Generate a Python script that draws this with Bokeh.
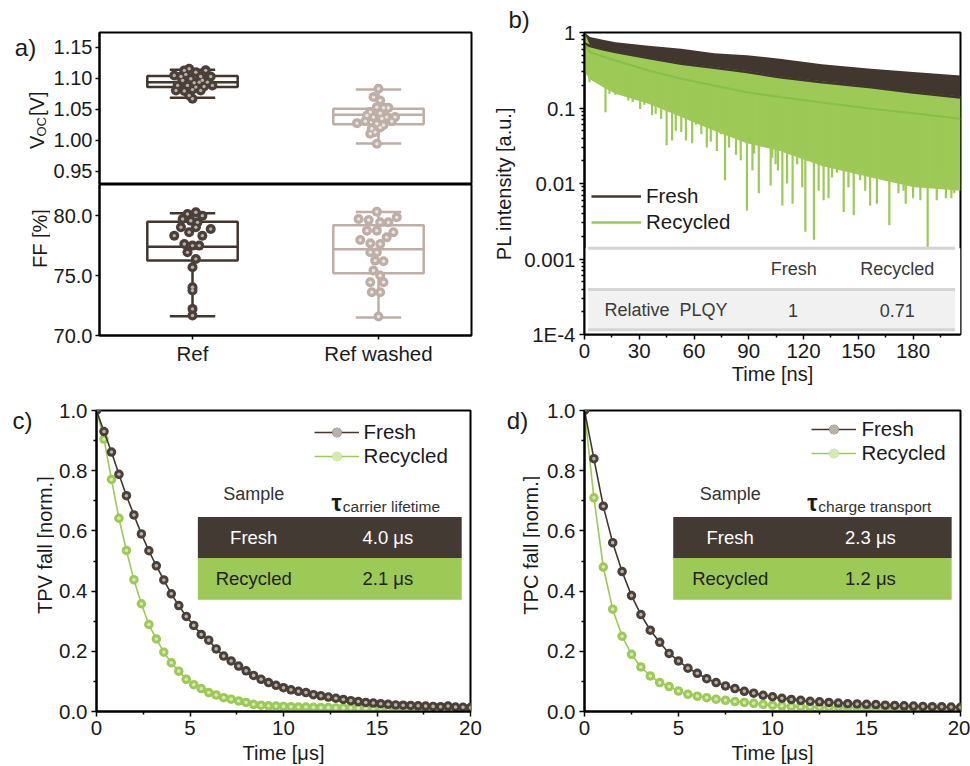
import numpy as np
from bokeh.plotting import figure
from bokeh.layouts import column, row
from bokeh.models import (FixedTicker, Legend, LegendItem, Range1d, Title,
                          NumeralTickFormatter, CustomJSTickFormatter)
from bokeh.embed import file_html
from bokeh.resources import INLINE
from bokeh.core.properties import value

FONT = "Liberation Sans"
DARK = "#41372f"
DARK_PT = "#4a4039"
DARK_HI = "#b9b0a8"
TAUPE = "#bdafa7"
TAUPE_HI = "#ebe5e0"
GREEN = "#9dc956"
GREEN_HI = "#d6eab4"
GREEN_FIT = "#86c046"
TABLE_DARK = "#433a33"
TXT = "#1a1a1a"
TICK_FS = "20.5px"
LABEL_FS = "20px"

# ---------------- a) box plots ----------------
groups = ["Ref", "Ref washed"]
group_pos = [1, 2]
voc_whisker_lo = [1.069, 0.995]
voc_q1 = [1.086, 1.026]
voc_median = [1.094, 1.0415]
voc_q3 = [1.104, 1.051]
voc_whisker_hi = [1.114, 1.082]
ff_whisker_lo = [71.6, 71.5]
ff_q1 = [76.25, 75.2]
ff_median = [77.4, 77.2]
ff_q3 = [79.5, 79.2]
ff_whisker_hi = [80.2, 80.3]

voc_ref = [1.1048, 1.1129, 1.1156, 1.110, 1.113, 1.103, 1.103, 1.0968, 1.0995, 1.094,
           1.094, 1.0887, 1.0887, 1.086, 1.087, 1.0887, 1.0806, 1.0796, 1.082, 1.0806,
           1.0726, 1.0672, 1.103, 1.093, 1.097, 1.1065]
voc_ref_jitter = [-0.098, -0.044, -0.018, 0.018, 0.071, 0.098, 0.044, -0.053, -0.009, 0.036,
                  0.08, -0.08, -0.027, 0.018, 0.062, 0.107, -0.089, -0.044, 0.0, 0.044,
                  -0.018, 0.0, -0.062, 0.009, 0.053, -0.036]
voc_washed = [1.0833, 1.0699, 1.0645, 1.0537, 1.0527, 1.0527, 1.0457, 1.044, 1.0376, 1.0376,
              1.0376, 1.0279, 1.031, 1.0269, 1.025, 1.031, 1.0188, 1.021, 1.0108, 1.0135,
              0.9946, 1.0403, 1.0355]
voc_washed_jitter = [0.0, -0.027, 0.009, -0.009, 0.027, 0.053, -0.044, 0.009, -0.027, 0.044,
                     0.089, -0.116, -0.071, -0.009, 0.027, 0.071, -0.036, 0.009, -0.044, -0.018,
                     -0.009, -0.062, 0.018]
ff_ref = [78.33, 79.03, 79.72, 80.14, 80.28, 80.0, 79.58, 79.44, 78.89, 78.61, 79.03, 78.33,
          77.64, 77.5, 77.5, 76.94, 76.39, 75.69, 74.03, 73.75, 72.22, 71.67]
ff_ref_jitter = [-0.098, -0.062, -0.053, -0.027, 0.018, 0.053, -0.009, 0.027, 0.098, -0.018,
                 0.018, 0.053, -0.044, 0.0, 0.036, -0.027, 0.018, 0.0, 0.0, 0.0, 0.0, 0.0]
ff_washed = [80.33, 79.72, 79.64, 79.86, 79.44, 79.44, 78.75, 78.75, 78.61, 78.19, 77.97, 77.69,
             77.64, 76.94, 76.94, 76.25, 76.2, 75.42, 75.0, 74.44, 74.44, 73.61, 73.61, 71.58]
ff_washed_jitter = [-0.009, -0.107, -0.053, 0.098, 0.009, 0.053, -0.062, -0.009, 0.08, 0.044,
                    -0.098, -0.044, 0.009, -0.044, -0.009, -0.018, 0.027, -0.027, 0.009, -0.044,
                    0.027, -0.036, 0.009, 0.0]

# ---------------- b) TRPL ----------------
pl_t = [0, 3, 10, 17, 35, 53, 71, 89, 107, 130, 157, 180, 206]
fresh_fit = [0.72, 0.66, 0.60, 0.55, 0.46, 0.385, 0.34, 0.30, 0.255, 0.22, 0.188, 0.16, 0.138]
fresh_upper = [1.0, 0.87, 0.80, 0.74, 0.67, 0.61, 0.53, 0.50, 0.45, 0.38, 0.33, 0.30, 0.27]
recycled_fit = [0.70, 0.55, 0.48, 0.425, 0.314, 0.244, 0.198, 0.162, 0.14, 0.118, 0.098, 0.085, 0.072]
recycled_upper = [1.0, 0.68, 0.61, 0.56, 0.47, 0.395, 0.35, 0.31, 0.262, 0.226, 0.193, 0.164, 0.142]
recycled_lower = [0.30, 0.24, 0.19, 0.155, 0.114, 0.076, 0.05, 0.034, 0.027, 0.017, 0.012, 0.009, 0.008]
spike_t = [2.7, 5.5, 11.5, 13.7, 16.9, 20, 24, 26.4, 30.5, 32.8, 37, 39, 42, 45, 48, 50, 53,
           55.6, 59, 61, 64, 67, 69.2, 72.5, 74.7, 77, 79.2, 83, 85.6, 89, 92, 92.9, 95.5,
           97.4, 102, 102.9, 104.7, 106, 108.4, 111, 114, 116.5, 119.3, 121, 125.7, 128.3,
           131, 133.7, 135.6, 138.3, 142, 144.6, 147.5, 151, 153.8, 156.5, 160.2, 164.7, 167,
           172, 174.8, 176, 180, 183, 184, 188, 191, 193, 196.5, 198, 201, 202.6]
spike_min = [0.22, 0.23, 0.088, 0.154, 0.15, 0.16, 0.126, 0.12, 0.097, 0.11, 0.08, 0.084,
             0.072, 0.032, 0.037, 0.05, 0.048, 0.037, 0.034, 0.06, 0.045, 0.030, 0.036, 0.027,
             0.045, 0.011, 0.03, 0.024, 0.0203, 0.0044, 0.0149, 0.025, 0.0074, 0.037, 0.0094,
             0.022, 0.018, 0.0149, 0.0051, 0.01, 0.0054, 0.018, 0.0089, 0.0023, 0.0018, 0.008,
             0.006, 0.0064, 0.012, 0.014, 0.0042, 0.0089, 0.0038, 0.011, 0.008, 0.0051, 0.0054,
             0.011, 0.0028, 0.0074, 0.008, 0.0054, 0.0064, 0.0089, 0.006, 0.0014, 0.01, 0.006,
             0.014, 0.0064, 0.0064, 0.0074]
plqy_header = ["Fresh", "Recycled"]
plqy_row_label = "Relative\u00a0\u00a0PLQY"
plqy_values = ["1", "0.71"]

# ---------------- c) TPV ----------------
tpv_t = [round(0.4 * i, 1) for i in range(51)]
tpv_fresh = [1.0, 0.93, 0.862, 0.788, 0.717, 0.653, 0.59, 0.534, 0.484, 0.437, 0.391, 0.352,
             0.316, 0.286, 0.256, 0.237, 0.208, 0.184, 0.168, 0.151, 0.135, 0.12, 0.107, 0.096,
             0.087, 0.079, 0.072, 0.067, 0.063, 0.056, 0.052, 0.048, 0.044, 0.04, 0.036, 0.033,
             0.03, 0.028, 0.026, 0.024, 0.022, 0.021, 0.02, 0.019, 0.018, 0.017, 0.016, 0.018,
             0.015, 0.014, 0.013]
tpv_recycled = [1.0, 0.905, 0.771, 0.642, 0.535, 0.438, 0.358, 0.289, 0.241, 0.197, 0.162,
                0.134, 0.107, 0.089, 0.076, 0.063, 0.055, 0.046, 0.041, 0.035, 0.030, 0.024,
                0.021, 0.019, 0.018, 0.017, 0.016, 0.015, 0.015, 0.014, 0.013, 0.013, 0.012,
                0.012, 0.012, 0.011, 0.011, 0.011, 0.011, 0.011, 0.011, 0.011, 0.011, 0.011,
                0.011, 0.011, 0.011, 0.011, 0.011, 0.011, 0.011]
tpv_samples = ["Fresh", "Recycled"]
tpv_lifetimes = ["4.0 μs", "2.1 μs"]

# ---------------- d) TPC ----------------
tpc_t = [round(0.5 * i, 1) for i in range(41)]
tpc_fresh = [1.0, 0.84, 0.682, 0.561, 0.465, 0.385, 0.322, 0.27, 0.23, 0.193, 0.168, 0.144,
             0.127, 0.109, 0.096, 0.085, 0.076, 0.067, 0.061, 0.054, 0.049, 0.044, 0.04, 0.037,
             0.034, 0.032, 0.03, 0.028, 0.026, 0.025, 0.024, 0.023, 0.021, 0.02, 0.019, 0.018,
             0.017, 0.016, 0.016, 0.015, 0.014]
tpc_recycled = [1.0, 0.71, 0.48, 0.34, 0.25, 0.19, 0.148, 0.118, 0.096, 0.083, 0.068, 0.057,
                0.051, 0.046, 0.041, 0.037, 0.033, 0.03, 0.027, 0.024, 0.021, 0.019, 0.017, 0.016,
                0.015, 0.015, 0.014, 0.014, 0.013, 0.013, 0.013, 0.012, 0.012, 0.012, 0.012,
                0.011, 0.011, 0.011, 0.011, 0.011, 0.011]
tpc_samples = ["Fresh", "Recycled"]
tpc_times = ["2.3 μs", "1.2 μs"]


def make_fig(w, h, l, r, t, b, **kw):
    p = figure(width=w, height=h, min_border_left=l, min_border_right=r,
               min_border_top=t, min_border_bottom=b, toolbar_location=None,
               output_backend="svg", **kw)
    p.outline_line_color = "black"
    p.outline_line_width = 2
    p.outline_line_alpha = 1
    p.grid.visible = False
    for ax in p.axis:
        ax.axis_line_width = 2
        ax.axis_line_color = "black"
        ax.major_tick_line_width = 1.5
        ax.minor_tick_line_width = 1.5
        ax.major_tick_in = 0
        ax.major_tick_out = 5
        ax.minor_tick_in = 0
        ax.minor_tick_out = 3
        ax.major_label_text_font = FONT
        ax.major_label_text_font_size = TICK_FS
        ax.major_label_text_color = TXT
        ax.axis_label_text_font = FONT
        ax.axis_label_text_font_size = LABEL_FS
        ax.axis_label_text_font_style = "normal"
        ax.axis_label_text_color = TXT
        ax.major_label_standoff = 4
    return p


def strip(w, h):
    """A plain figure whose frame is its whole canvas, used for texts beside a panel."""
    s = figure(width=w, height=h, min_border_left=0, min_border_right=0, min_border_top=0,
               min_border_bottom=0, toolbar_location=None, output_backend="svg",
               x_axis_type=None, y_axis_type=None, x_range=Range1d(0, w), y_range=Range1d(0, h))
    s.outline_line_color = None
    s.grid.visible = False
    return s


def strip_text(s, x, y, text, fs, angle=0.0, align="center", baseline="middle"):
    s.text(x=[x], y=[y], text=[text], angle=angle, text_font=value(FONT), text_font_size=fs,
           text_color=TXT, text_align=align, text_baseline=baseline)


def boxes(p, q1, q3, med, lo, hi, colors):
    hw, cw = 0.243, 0.122
    p.quad(left=[g - hw for g in group_pos], right=[g + hw for g in group_pos],
           bottom=q1, top=q3, fill_color="white", line_color=colors, line_width=2.5)
    p.segment(x0=group_pos, y0=q3, x1=group_pos, y1=hi, line_color=colors, line_width=2.5)
    p.segment(x0=group_pos, y0=q1, x1=group_pos, y1=lo, line_color=colors, line_width=2.5)
    p.segment(x0=[g - cw for g in group_pos], y0=hi, x1=[g + cw for g in group_pos], y1=hi,
              line_color=colors, line_width=2.5)
    p.segment(x0=[g - cw for g in group_pos], y0=lo, x1=[g + cw for g in group_pos], y1=lo,
              line_color=colors, line_width=2.5)
    p.segment(x0=[g - hw for g in group_pos], y0=med, x1=[g + hw for g in group_pos], y1=med,
              line_color=colors, line_width=2.5)


def balls(p, xs, ys, fill, hi):
    p.scatter(xs, ys, size=10, fill_color=fill, line_color=None)
    p.scatter(xs, ys, size=3.4, fill_color=hi, line_color=None)


def tight_y(p):
    p.yaxis.major_label_text_font_size = "20px"
    p.yaxis.major_label_standoff = 3
    p.yaxis.major_tick_out = 4
    p.yaxis.minor_tick_line_color = None


UP = np.pi / 2
SA_W = 50

# ---------- panel a top ----------
sa1 = strip(SA_W, 184)
strip_text(sa1, 25, 166, "a)", "24px")
strip_text(sa1, 36, 43, "V", "20px", UP, "left")
strip_text(sa1, 41, 58, "OC", "13px", UP, "left")
strip_text(sa1, 36, 83, "[V]", "20px", UP, "left")
pa1 = make_fig(490 - SA_W, 184, 96 - SA_W, 19, 32, 0, x_range=Range1d(0.5, 2.5),
               y_range=Range1d(0.929, 1.174))
pa1.xaxis.visible = False
pa1.yaxis.ticker = FixedTicker(ticks=[0.95, 1.0, 1.05, 1.10, 1.15])
pa1.yaxis.formatter = NumeralTickFormatter(format="0.00")
tight_y(pa1)
boxes(pa1, voc_q1, voc_q3, voc_median, voc_whisker_lo, voc_whisker_hi, [DARK, TAUPE])
balls(pa1, [group_pos[0] + j for j in voc_ref_jitter], voc_ref, DARK_PT, DARK_HI)
balls(pa1, [group_pos[1] + j for j in voc_washed_jitter], voc_washed, TAUPE, TAUPE_HI)

# ---------- panel a bottom ----------
sa2 = strip(SA_W, 211)
strip_text(sa2, 39, 135.5, "FF [%]", LABEL_FS, UP)
pa2 = make_fig(490 - SA_W, 211, 96 - SA_W, 19, 0, 60, x_range=Range1d(0.5, 2.5),
               y_range=Range1d(70, 82.6))
pa2.yaxis.ticker = FixedTicker(ticks=[70, 75, 80])
pa2.yaxis.formatter = NumeralTickFormatter(format="0.0")
tight_y(pa2)
pa2.xaxis.ticker = FixedTicker(ticks=group_pos)
pa2.xaxis.major_label_overrides = {group_pos[i]: groups[i] for i in range(2)}
pa2.xaxis.minor_tick_line_color = None
pa2.xaxis.major_tick_out = 4
pa2.xaxis.major_label_standoff = 2
boxes(pa2, ff_q1, ff_q3, ff_median, ff_whisker_lo, ff_whisker_hi, [DARK, TAUPE])
balls(pa2, [group_pos[0] + j for j in ff_ref_jitter], ff_ref, DARK_PT, DARK_HI)
balls(pa2, [group_pos[1] + j for j in ff_washed_jitter], ff_washed, TAUPE, TAUPE_HI)

# ---------- panel b ----------
pb = make_fig(480, 395, 93, 10, 32, 61, x_range=Range1d(0, 206), y_range=Range1d(1e-4, 1),
              y_axis_type="log")
pb.xaxis.ticker = FixedTicker(ticks=[0, 30, 60, 90, 120, 150, 180],
                              minor_ticks=[15, 45, 75, 105, 135, 165, 195])
pb.yaxis.ticker = FixedTicker(ticks=[1e-4, 1e-3, 1e-2, 1e-1, 1],
                              minor_ticks=[k * 10.0 ** e for e in range(-4, 0) for k in range(2, 10)])
pb.yaxis.formatter = CustomJSTickFormatter(code="return tick < 0.0005 ? '1E-4' : String(+tick.toPrecision(1));")
pb.yaxis.axis_label = "PL intensity [a.u.]"
pb.xaxis.axis_label = "Time [ns]"
pb.yaxis.axis_label_standoff = 6
pb.xaxis.axis_label_standoff = 2
pb.varea(x=pl_t, y1=fresh_fit, y2=fresh_upper, fill_color=DARK)
pb.varea(x=pl_t, y1=recycled_lower, y2=recycled_upper, fill_color=GREEN)
spike_top = np.interp(spike_t, pl_t, recycled_fit)
pb.segment(x0=spike_t, y0=spike_min, x1=spike_t, y1=spike_top, line_color=GREEN, line_width=2.2)
# PLQY table
pb.quad(left=0, right=206, bottom=1e-4, top=0.00139, fill_color="white", line_color=None)
pb.quad(left=2, right=203, bottom=1.16e-4, top=3.94e-4, fill_color="#f1f1f1", line_color=None)
for yl in [0.00139, 3.94e-4, 1.16e-4]:
    pb.segment(x0=2, y0=yl, x1=203, y1=yl, line_color="#d4d4d4", line_width=3)
pb.text(x=[114.6, 171.3], y=[7.3e-4, 7.3e-4], text=plqy_header, text_font=value(FONT),
        text_font_size="18px", text_color="#3a3a3a", text_align="center", text_baseline="middle")
pb.text(x=[44.6, 114.2, 171.3], y=[2.1e-4] * 3, text=[plqy_row_label] + plqy_values,
        text_font=value(FONT), text_font_size="18px", text_color="#3a3a3a",
        text_align="center", text_baseline="middle")
rf = pb.line(pl_t, fresh_fit, line_color=DARK, line_width=2.5)
rr = pb.line(pl_t, recycled_fit, line_color=GREEN_FIT, line_width=2)
rr_leg = pb.line([0], [1e-9], line_color=GREEN, line_width=2.5)
leg_b = Legend(items=[LegendItem(label="Fresh", renderers=[rf]),
                      LegendItem(label="Recycled", renderers=[rr_leg])],
               location=(7, 99), glyph_width=50, glyph_height=26, label_height=26,
               label_standoff=5, spacing=0, padding=0, margin=0,
               label_text_font=FONT, label_text_font_size="20.5px", label_text_color=TXT,
               background_fill_alpha=0, border_line_color=None)
pb.add_layout(leg_b)
pb.add_layout(Title(text="b)", align="left", offset=-76, standoff=0, vertical_align="bottom",
                    text_font=FONT, text_font_size="24px", text_font_style="normal",
                    text_color=TXT), "above")


# ---------- panels c, d ----------
def decay_panel(w, l, r, t_arr, fresh, recyc, samples, vals, header_sub,
                row_x0, row_x1, sample_x, val_x, tau_x, leg_loc):
    p = make_fig(w, 371, l, r, 15, 54, x_range=Range1d(0, 20), y_range=Range1d(0, 1))
    p.xaxis.ticker = FixedTicker(ticks=[0, 5, 10, 15, 20], minor_ticks=[2.5, 7.5, 12.5, 17.5])
    p.yaxis.ticker = FixedTicker(ticks=[0, 0.2, 0.4, 0.6, 0.8, 1.0],
                                 minor_ticks=[0.1, 0.3, 0.5, 0.7, 0.9])
    p.yaxis.formatter = NumeralTickFormatter(format="0.0")
    p.xaxis.axis_label = "Time [μs]"
    p.xaxis.axis_label_standoff = 4
    # table
    p.quad(left=row_x0, right=row_x1, bottom=0.510, top=0.646, fill_color=TABLE_DARK, line_color=None)
    p.quad(left=row_x0, right=row_x1, bottom=0.371, top=0.510, fill_color=GREEN, line_color=None)
    p.text(x=[sample_x], y=[0.722], text=["Sample"], text_font=value(FONT), text_font_size="18px",
           text_color="#333333", text_align="center", text_baseline="middle")
    p.text(x=[tau_x], y=[0.693], text=["τ"], text_font=value(FONT), text_font_size="23px",
           text_font_style="bold", text_color=TXT, text_align="right", text_baseline="alphabetic")
    p.text(x=[tau_x + 0.05], y=[0.680], text=[header_sub], text_font=value(FONT),
           text_font_size="15.5px", text_color="#333333", text_align="left", text_baseline="alphabetic")
    p.text(x=[sample_x, val_x], y=[0.577, 0.577], text=[samples[0], vals[0]], text_font=value(FONT),
           text_font_size="18.5px", text_color="white", text_align="center", text_baseline="middle")
    p.text(x=[sample_x, val_x], y=[0.441, 0.441], text=[samples[1], vals[1]], text_font=value(FONT),
           text_font_size="18.5px", text_color="#222222", text_align="center", text_baseline="middle")
    # data
    lr = p.line(t_arr, recyc, line_color=GREEN, line_width=1.6)
    sr = p.scatter(t_arr, recyc, size=9.5, fill_color=GREEN, line_color=None)
    hr = p.scatter(t_arr, recyc, size=3.6, fill_color=GREEN_HI, line_color=None)
    lf = p.line(t_arr, fresh, line_color=DARK, line_width=1.6)
    sf = p.scatter(t_arr, fresh, size=9.5, fill_color=DARK_PT, line_color=None)
    hf = p.scatter(t_arr, fresh, size=3.6, fill_color=DARK_HI, line_color=None)
    leg = Legend(items=[LegendItem(label="Fresh", renderers=[lf, sf, hf]),
                        LegendItem(label="Recycled", renderers=[lr, sr, hr])],
                 location=leg_loc, glyph_width=45, glyph_height=24, label_height=24,
                 label_standoff=5, spacing=0, padding=0, margin=0,
                 label_text_font=FONT, label_text_font_size="20.5px", label_text_color=TXT,
                 background_fill_alpha=0, border_line_color=None)
    p.add_layout(leg)
    return p


sc = strip(54, 371)
strip_text(sc, 22, 359, "c)", "24px")
strip_text(sc, 44, 205, "TPV fall [norm.]", LABEL_FS, UP)
pc = decay_panel(436, 42, 20, tpv_t, tpv_fresh, tpv_recycled,
                 tpv_samples, tpv_lifetimes, "carrier lifetime",
                 5.42, 19.53, 8.41, 15.58, 13.12, (217.6, 243.4))
sd = strip(50, 371)
strip_text(sd, 27, 359, "d)", "24px")
strip_text(sd, 40, 205, "TPC fall [norm.]", LABEL_FS, UP)
pd = decay_panel(430, 44, 10, tpc_t, tpc_fresh, tpc_recycled,
                 tpc_samples, tpc_times, "charge transport",
                 4.72, 19.53, 7.75, 15.21, 12.39, (227.4, 246.3))

layout = column(row(column(row(sa1, pa1), row(sa2, pa2)), pb), row(sc, pc, sd, pd))
open("out.html", "w").write(file_html(layout, INLINE))
